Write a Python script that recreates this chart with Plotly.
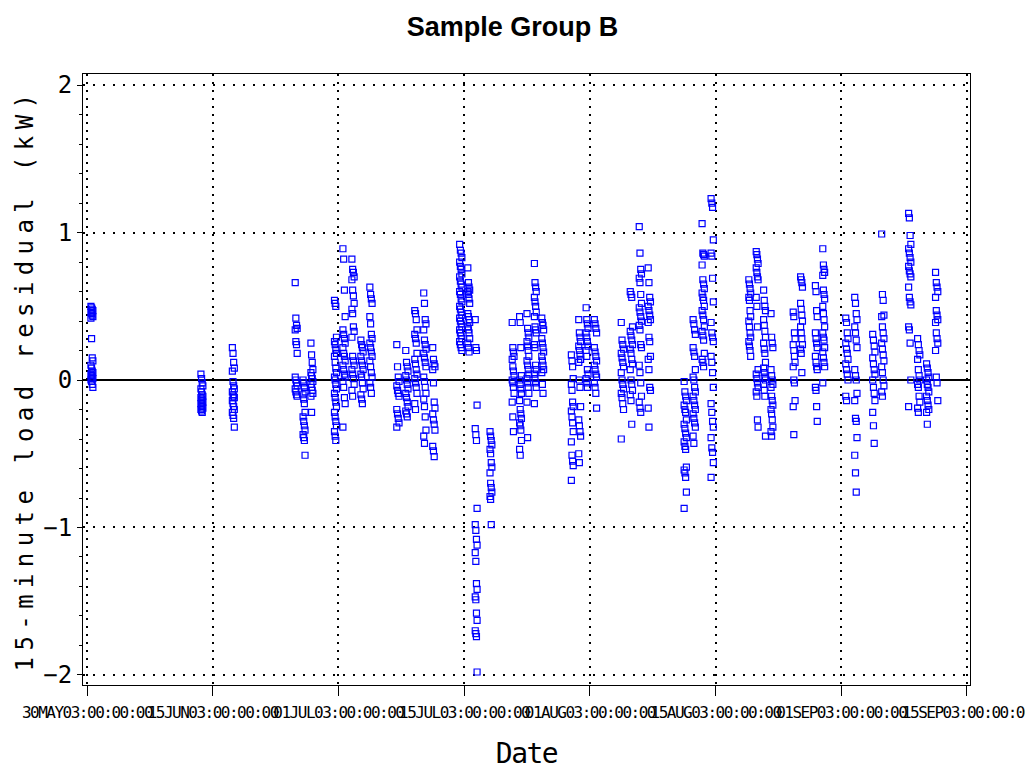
import numpy as np
import pandas as pd
import plotly.graph_objects as go

# ---- axis tick dates / labels (equally spaced semi-monthly ticks) ----
tick_dates = ["2003-05-30", "2003-06-15", "2003-07-01", "2003-07-15", "2003-08-01",
              "2003-08-15", "2003-09-01", "2003-09-15", "2003-10-01"]
tick_labels = ["30MAY03:00:00:00", "15JUN03:00:00:00", "01JUL03:00:00:00", "15JUL03:00:00:00",
               "01AUG03:00:00:00", "15AUG03:00:00:00", "01SEP03:00:00:00", "15SEP03:00:00:00",
               "01OCT03:00:00:00"]
y_tick_vals = [-2, -1, 0, 1, 2]
y_tick_text = ["\u22122", "\u22121", "0", "1", "2"]

# ---- observation days ----
day_dates = ["2003-05-30", "2003-06-13", "2003-06-17", "2003-06-25", "2003-06-26", "2003-06-27",
             "2003-06-30", "2003-07-01", "2003-07-02", "2003-07-03", "2003-07-04", "2003-07-07",
             "2003-07-08", "2003-07-09", "2003-07-10", "2003-07-11", "2003-07-14", "2003-07-15",
             "2003-07-16", "2003-07-18", "2003-07-21", "2003-07-22", "2003-07-23", "2003-07-24",
             "2003-07-25", "2003-07-29", "2003-07-30", "2003-07-31", "2003-08-01", "2003-08-04",
             "2003-08-05", "2003-08-06", "2003-08-07", "2003-08-11", "2003-08-12", "2003-08-13",
             "2003-08-14", "2003-08-19", "2003-08-20", "2003-08-21", "2003-08-22", "2003-08-25",
             "2003-08-26", "2003-08-28", "2003-08-29", "2003-09-01", "2003-09-02", "2003-09-04",
             "2003-09-05", "2003-09-08", "2003-09-09", "2003-09-10", "2003-09-11"]

# reading hours cycled within each day
obs_hours = [12, 14, 16, 18]

# ---- 15-minute load residuals (kW), one list per day ----
residuals = [
    [0.50, 0.49, 0.48, 0.47, 0.46, 0.45, 0.44, 0.43, 0.42, 0.28, 0.15, 0.13, 0.10, 0.08, 0.06, 0.05, 0.04, 0.03, 0.02, 0.01, 0.00, -0.01, -0.03, -0.05],
    [0.04, 0.01, -0.02, -0.04, -0.06, -0.08, -0.10, -0.11, -0.12, -0.13, -0.14, -0.15, -0.16, -0.17, -0.18, -0.19, -0.20, -0.21, -0.22],
    [0.22, 0.18, 0.12, 0.08, 0.06, -0.01, -0.04, -0.06, -0.08, -0.10, -0.11, -0.12, -0.14, -0.16, -0.18, -0.20, -0.22, -0.24, -0.26, -0.32],
    [0.66, 0.42, 0.37, 0.35, 0.34, 0.26, 0.24, 0.18, 0.02, 0.00, -0.02, -0.04, -0.06, -0.08, -0.10, -0.11],
    [0.00, -0.02, -0.05, -0.08, -0.10, -0.13, -0.16, -0.22, -0.25, -0.28, -0.31, -0.34, -0.37, -0.39, -0.41, -0.51],
    [0.25, 0.17, 0.12, 0.07, 0.05, 0.03, 0.01, -0.01, -0.03, -0.05, -0.07, -0.09, -0.11, -0.22],
    [0.54, 0.52, 0.50, 0.29, 0.26, 0.24, 0.21, 0.18, 0.16, 0.12, 0.08, 0.05, 0.02, 0.00, -0.03, -0.06, -0.09, -0.12, -0.15, -0.18, -0.22, -0.25, -0.28, -0.31, -0.35, -0.38, -0.41],
    [0.89, 0.82, 0.61, 0.43, 0.34, 0.31, 0.28, 0.25, 0.22, 0.18, 0.16, 0.13, 0.10, 0.07, 0.04, 0.02, -0.01, -0.05, -0.12, -0.16, -0.32],
    [0.82, 0.75, 0.73, 0.70, 0.68, 0.61, 0.57, 0.52, 0.48, 0.45, 0.36, 0.33, 0.29, 0.16, 0.13, 0.10, 0.07, 0.04, 0.01, -0.03, -0.07, -0.11],
    [0.27, 0.24, 0.22, 0.19, 0.16, 0.13, 0.10, 0.07, 0.04, 0.02, -0.02, -0.06, -0.10, -0.13, -0.16],
    [0.63, 0.58, 0.55, 0.52, 0.43, 0.38, 0.31, 0.28, 0.25, 0.22, 0.19, 0.16, 0.13, 0.09, 0.05, 0.02, -0.02, -0.05, -0.09],
    [0.24, 0.09, 0.02, -0.01, -0.04, -0.07, -0.09, -0.11, -0.20, -0.23, -0.26, -0.29, -0.32],
    [0.20, 0.12, 0.09, 0.06, 0.03, 0.00, -0.03, -0.06, -0.09, -0.12, -0.15, -0.18, -0.21, -0.23, -0.25],
    [0.47, 0.45, 0.41, 0.34, 0.31, 0.28, 0.25, 0.18, 0.14, 0.11, 0.07, 0.04, 0.01, -0.02, -0.05, -0.09, -0.16, -0.20],
    [0.59, 0.52, 0.41, 0.38, 0.34, 0.27, 0.24, 0.21, 0.18, 0.15, 0.12, 0.09, 0.02, -0.01, -0.05, -0.09, -0.13, -0.18, -0.25, -0.34, -0.38, -0.43],
    [0.22, 0.14, 0.11, 0.09, 0.07, -0.02, -0.15, -0.19, -0.23, -0.27, -0.30, -0.34, -0.45, -0.48, -0.52],
    [0.92, 0.88, 0.86, 0.83, 0.80, 0.77, 0.75, 0.72, 0.70, 0.67, 0.65, 0.63, 0.60, 0.58, 0.55, 0.53, 0.50, 0.48, 0.46, 0.44, 0.42, 0.40, 0.38, 0.36, 0.34, 0.32, 0.30, 0.28, 0.26, 0.24, 0.22, 0.20],
    [0.76, 0.66, 0.63, 0.61, 0.60, 0.58, 0.55, 0.52, 0.45, 0.43, 0.41, 0.39, 0.36, 0.34, 0.32, 0.28, 0.25, 0.22, 0.19],
    [0.41, 0.22, 0.20, -0.17, -0.33, -0.37, -0.41, -0.87, -0.98, -1.02, -1.08, -1.12, -1.17, -1.23, -1.38, -1.42, -1.47, -1.49, -1.58, -1.63, -1.70, -1.72, -1.74, -1.98],
    [-0.35, -0.38, -0.41, -0.44, -0.47, -0.50, -0.56, -0.59, -0.63, -0.70, -0.73, -0.76, -0.79, -0.81, -0.98],
    [0.39, 0.22, 0.19, 0.16, 0.14, 0.09, 0.06, 0.03, 0.00, -0.02, -0.05, -0.09, -0.15, -0.25, -0.35],
    [0.43, 0.39, 0.22, 0.03, 0.00, -0.03, -0.06, -0.09, -0.14, -0.20, -0.23, -0.26, -0.29, -0.31, -0.34, -0.41, -0.47, -0.51],
    [0.45, 0.35, 0.32, 0.29, 0.26, 0.23, 0.20, 0.16, 0.13, 0.10, 0.07, 0.04, 0.01, -0.02, -0.05, -0.09, -0.15, -0.39],
    [0.79, 0.66, 0.63, 0.60, 0.56, 0.53, 0.50, 0.46, 0.43, 0.36, 0.34, 0.32, 0.24, 0.22, 0.10, 0.07, 0.04, 0.01, -0.02, -0.05, -0.16],
    [0.42, 0.39, 0.37, 0.34, 0.28, 0.25, 0.22, 0.19, 0.16, 0.13, 0.10, 0.07, 0.05, -0.03, -0.09],
    [0.17, 0.13, 0.09, 0.01, -0.03, -0.07, -0.15, -0.18, -0.21, -0.25, -0.29, -0.35, -0.42, -0.51, -0.55, -0.58, -0.68],
    [0.41, 0.32, 0.29, 0.26, 0.23, 0.20, 0.17, 0.14, 0.12, 0.00, -0.05, -0.18, -0.27, -0.31, -0.35, -0.38, -0.50, -0.56],
    [0.49, 0.41, 0.38, 0.35, 0.32, 0.29, 0.26, 0.23, 0.20, 0.16, 0.07, 0.04, 0.01, -0.02, -0.05],
    [0.41, 0.38, 0.35, 0.32, 0.22, 0.19, 0.16, 0.13, 0.10, 0.07, 0.04, 0.02, -0.02, -0.05, -0.09, -0.19],
    [0.39, 0.27, 0.24, 0.21, 0.18, 0.15, 0.12, 0.09, 0.05, 0.00, -0.03, -0.06, -0.09, -0.12, -0.16, -0.20, -0.40],
    [0.60, 0.58, 0.56, 0.36, 0.33, 0.30, 0.27, 0.24, 0.21, 0.18, 0.14, 0.11, 0.07, 0.00, -0.03, -0.07, -0.10, -0.14, -0.30],
    [1.04, 0.86, 0.75, 0.72, 0.69, 0.66, 0.58, 0.52, 0.49, 0.46, 0.43, 0.40, 0.37, 0.34, 0.24, 0.22, 0.10, 0.05, -0.02, -0.11, -0.15, -0.19, -0.22],
    [0.76, 0.66, 0.56, 0.53, 0.50, 0.47, 0.44, 0.41, 0.39, 0.29, 0.26, 0.16, 0.14, 0.07, -0.05, -0.07, -0.19, -0.32],
    [-0.01, -0.08, -0.11, -0.14, -0.17, -0.20, -0.22, -0.27, -0.30, -0.33, -0.36, -0.39, -0.42, -0.45, -0.47, -0.59, -0.61, -0.63, -0.66, -0.76, -0.87],
    [0.41, 0.38, 0.34, 0.31, 0.22, 0.19, 0.16, 0.07, 0.02, 0.00, -0.05, -0.08, -0.11, -0.14, -0.17, -0.20, -0.23, -0.26, -0.29, -0.32, -0.38, -0.43],
    [1.06, 0.86, 0.85, 0.84, 0.78, 0.68, 0.65, 0.62, 0.59, 0.56, 0.54, 0.50, 0.47, 0.44, 0.41, 0.36, 0.33, 0.30, 0.27, 0.18, 0.14, 0.12, 0.09],
    [1.23, 1.20, 1.17, 0.95, 0.86, 0.84, 0.69, 0.53, 0.39, 0.32, 0.29, 0.26, 0.16, 0.12, 0.05, -0.05, -0.16, -0.22, -0.28, -0.32, -0.39, -0.46, -0.49, -0.56, -0.66],
    [0.68, 0.65, 0.62, 0.59, 0.56, 0.54, 0.47, 0.43, 0.40, 0.36, 0.32, 0.29, 0.26, 0.23, 0.20, 0.16],
    [0.87, 0.85, 0.82, 0.79, 0.76, 0.73, 0.70, 0.68, 0.56, 0.50, 0.36, 0.07, 0.04, 0.01, -0.02, -0.05, -0.08, -0.11, -0.27, -0.32],
    [0.61, 0.54, 0.50, 0.47, 0.41, 0.37, 0.33, 0.29, 0.25, 0.21, 0.18, 0.12, 0.08, 0.05, 0.02, 0.00, -0.03, -0.07, -0.11, -0.38],
    [0.45, 0.29, 0.25, 0.22, 0.07, 0.03, 0.00, -0.03, -0.05, -0.11, -0.14, -0.17, -0.20, -0.23, -0.27, -0.32, -0.35, -0.38],
    [0.46, 0.43, 0.32, 0.28, 0.24, 0.20, 0.16, 0.12, 0.09, 0.00, -0.02, -0.14, -0.18, -0.37],
    [0.70, 0.68, 0.66, 0.63, 0.52, 0.48, 0.44, 0.40, 0.36, 0.32, 0.28, 0.24, 0.21, 0.18, 0.05],
    [0.64, 0.60, 0.47, 0.43, 0.32, 0.28, 0.25, 0.22, 0.16, 0.12, 0.09, 0.07, -0.05, -0.07, -0.18, -0.28],
    [0.89, 0.78, 0.75, 0.73, 0.71, 0.61, 0.58, 0.55, 0.50, 0.45, 0.41, 0.36, 0.32, 0.29, 0.27, 0.22, 0.19, 0.15, 0.12, 0.09, -0.02],
    [0.42, 0.39, 0.32, 0.28, 0.25, 0.21, 0.18, 0.14, 0.11, 0.07, 0.04, 0.00, -0.11, -0.14],
    [0.56, 0.52, 0.45, 0.41, 0.36, 0.32, 0.27, 0.22, 0.07, 0.03, 0.00, -0.09, -0.14, -0.26, -0.28, -0.39, -0.51, -0.63, -0.76],
    [0.31, 0.27, 0.23, 0.19, 0.15, 0.11, 0.07, 0.04, 0.00, -0.05, -0.09, -0.14, -0.22, -0.31, -0.43],
    [0.99, 0.58, 0.54, 0.44, 0.43, 0.36, 0.32, 0.28, 0.25, 0.21, 0.17, 0.13, 0.09, 0.05, 0.00, -0.04, -0.08, -0.11],
    [1.13, 1.10, 0.98, 0.92, 0.89, 0.86, 0.83, 0.80, 0.77, 0.74, 0.72, 0.70, 0.63, 0.56, 0.53, 0.51, 0.36, 0.34, 0.25, 0.00, -0.18],
    [0.28, 0.24, 0.20, 0.17, 0.14, 0.07, 0.03, 0.00, -0.03, -0.05, -0.11, -0.15, -0.19, -0.22],
    [0.11, 0.08, 0.05, 0.02, 0.00, -0.03, -0.05, -0.08, -0.11, -0.14, -0.17, -0.20, -0.22, -0.30],
    [0.73, 0.66, 0.63, 0.60, 0.56, 0.47, 0.44, 0.41, 0.39, 0.32, 0.28, 0.25, 0.20, 0.02, -0.02, -0.14],
]

# ---- build timestamps and map onto the equally spaced tick axis ----
tick_num = pd.to_datetime(tick_dates).values.astype("datetime64[s]").astype(np.int64) / 86400.0
stamps, vals = [], []
for d, ys in zip(day_dates, residuals):
    for k, v in enumerate(ys):
        stamps.append(pd.Timestamp(d) + pd.Timedelta(hours=obs_hours[k % len(obs_hours)]))
        vals.append(v)
stamp_num = pd.to_datetime(stamps).values.astype("datetime64[s]").astype(np.int64) / 86400.0
xpos = np.interp(stamp_num, tick_num, np.arange(len(tick_dates)))

MONO = "DejaVu Sans Mono, monospace"


def spaced(text, px):
    return f'<span style="letter-spacing:{px}px">{text}</span>'


fig = go.Figure()
fig.add_trace(go.Scatter(
    x=xpos, y=vals, mode="markers",
    marker=dict(symbol="square-open", size=6, color="#0000ff", line=dict(width=1.2, color="#0000ff")),
    hovertext=[s.strftime("%d%b%y:%H:%M:%S").upper() for s in stamps],
    showlegend=False,
))

fig.update_layout(
    width=1025, height=770,
    margin=dict(l=83, r=55, t=74, b=85),
    paper_bgcolor="white", plot_bgcolor="white",
    title=dict(text="<b>Sample Group B</b>", x=0.5, xanchor="center", y=1 - 27 / 770, yanchor="middle",
               font=dict(family="Liberation Sans, Arial, sans-serif", size=27, color="black")),
    xaxis=dict(
        range=[-0.0318, 7.024], tickmode="array",
        tickvals=list(range(len(tick_dates))), ticktext=[spaced(t, -1.5) for t in tick_labels],
        tickangle=0, automargin=False, ticklabeloverflow="allow", ticklabelstandoff=3,
        ticks="outside", ticklen=10, tickcolor="black", tickwidth=1,
        tickfont=dict(family=MONO, size=16, color="black"),
        showline=True, linecolor="black", linewidth=1, mirror=True,
        showgrid=True, gridcolor="black", gridwidth=2, griddash="2px,6px",
        zeroline=False,
        title=dict(text=spaced("Date", -1.5), font=dict(family=MONO, size=28, color="black"), standoff=28),
    ),
    yaxis=dict(
        range=[-2.068, 2.075], tickmode="array", tickvals=y_tick_vals, ticktext=y_tick_text,
        automargin=False,
        ticks="outside", ticklen=5, tickcolor="black", tickwidth=1,
        tickfont=dict(family=MONO, size=24, color="black"),
        minor=dict(dtick=0.2, tick0=0, ticks="outside", ticklen=3, tickcolor="black", showgrid=False),
        showline=True, linecolor="black", linewidth=1, mirror=True,
        showgrid=True, gridcolor="black", gridwidth=2, griddash="2px,8px",
        zeroline=True, zerolinecolor="black", zerolinewidth=1.5,
        title=dict(text=spaced("15-minute load residual (kW)", 6.4),
                   font=dict(family=MONO, size=24, color="black"), standoff=2),
    ),
)

fig.write_html("out.html")
